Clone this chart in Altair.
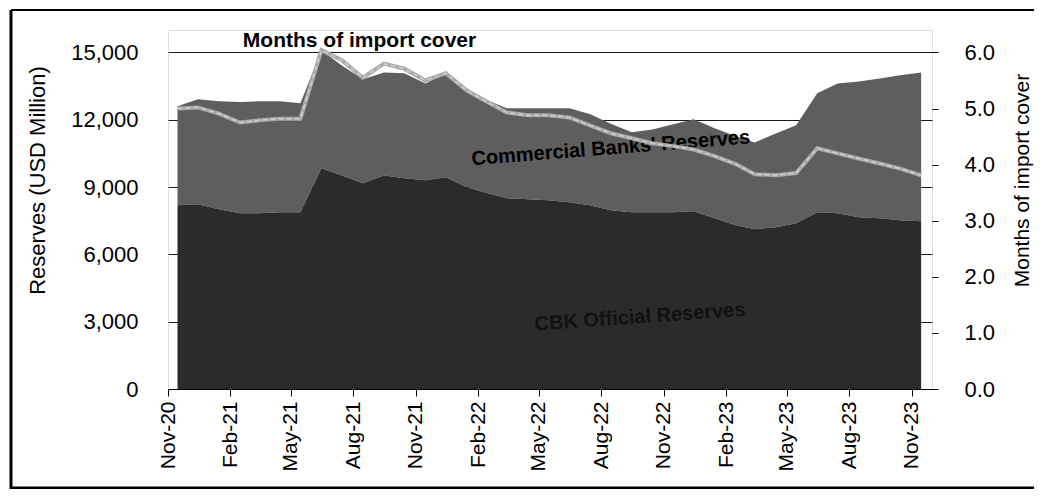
import altair as alt
import pandas as pd

# ---- data ----
months = [
    "2020-11", "2020-12", "2021-01", "2021-02", "2021-03", "2021-04", "2021-05",
    "2021-06", "2021-07", "2021-08", "2021-09", "2021-10", "2021-11", "2021-12",
    "2022-01", "2022-02", "2022-03", "2022-04", "2022-05", "2022-06", "2022-07",
    "2022-08", "2022-09", "2022-10", "2022-11", "2022-12", "2023-01", "2023-02",
    "2023-03", "2023-04", "2023-05", "2023-06", "2023-07", "2023-08", "2023-09",
    "2023-10", "2023-11",
]
cbk_reserves = [
    8190, 8230, 8010, 7830, 7830, 7880, 7880, 9840, 9520, 9170, 9520, 9390,
    9300, 9440, 8990, 8720, 8500, 8460, 8410, 8320, 8190, 7970, 7880, 7880,
    7880, 7920, 7610, 7300, 7120, 7210, 7390, 7880, 7830, 7660, 7610, 7520, 7480,
]
commercial_reserves = [
    4410, 4680, 4820, 4960, 4990, 4940, 4850, 5250, 4900, 4630, 4590, 4680,
    4320, 4630, 4230, 4140, 4010, 4050, 4100, 4190, 4070, 3850, 3560, 3690,
    3920, 4100, 4010, 3960, 3870, 4180, 4360, 5300, 5790, 6050, 6230, 6460, 6630,
]
import_cover = [
    5.00, 5.02, 4.91, 4.75, 4.79, 4.82, 4.82, 6.04, 5.86, 5.55, 5.80, 5.71,
    5.50, 5.63, 5.32, 5.11, 4.93, 4.88, 4.88, 4.84, 4.70, 4.56, 4.47, 4.38,
    4.33, 4.27, 4.15, 4.01, 3.83, 3.81, 3.85, 4.29, 4.20, 4.11, 4.02, 3.93, 3.81,
]
tick_months = [(2020, 11), (2021, 2), (2021, 5), (2021, 8), (2021, 11), (2022, 2),
               (2022, 5), (2022, 8), (2022, 11), (2023, 2), (2023, 5), (2023, 8),
               (2023, 11)]
left_ticks = [0, 3000, 6000, 9000, 12000, 15000]
right_ticks = [0, 1, 2, 3, 4, 5, 6]

label_text = ["Months of import cover", "Commercial Banks' Reserves", "CBK Official Reserves"]
label_date = ["2021-08-10T00:00:00", "2022-08-15T00:00:00", "2022-09-27T00:00:00"]
label_value = [15490, 10730, 3205]

FONT = "Liberation Sans"

df = pd.DataFrame({
    "date": [m + "-15T00:00:00" for m in months],
    "cbk": cbk_reserves,
    "commercial": commercial_reserves,
    "cover": import_cover,
})
df["total"] = df["cbk"] + df["commercial"]

labels = pd.DataFrame({"text": label_text, "date": label_date, "value": label_value})

x_dom = [alt.DateTime(year=2020, month=11, date=1), alt.DateTime(year=2023, month=12, date=1)]
x_vals = [alt.DateTime(year=y, month=m, date=1) for y, m in tick_months]

x_enc = alt.X(
    "date:T",
    scale=alt.Scale(domain=x_dom),
    axis=alt.Axis(values=x_vals, format="%b-%y", labelAngle=-90, labelFontSize=21,
                  labelFont=FONT, labelColor="black", tickSize=7, tickColor="black",
                  domainColor="black", labelPadding=5, labelFlush=False,
                  labelOverlap=False, grid=False, title=None),
)

y_scale = alt.Scale(domain=[0, 16000], nice=False, zero=True)
y_axis = alt.Axis(values=left_ticks, format=",.0f", labelFontSize=22, labelFont=FONT,
                  labelColor="black", tickSize=0, labelPadding=30, domain=False,
                  grid=True, gridColor="#1a1a1a", gridWidth=1.2,
                  title="Reserves (USD Million)", titleFontSize=22, titleFont=FONT,
                  titleFontWeight="normal", titleColor="black", titleAngle=-90,
                  titleAlign="center", titleBaseline="middle", titleX=-131, titleY=150)

base = alt.Chart(df)

commercial_area = base.mark_area(color="#5e5e5e", opacity=1).encode(
    x=x_enc,
    y=alt.Y("total:Q", scale=y_scale, axis=y_axis),
    y2="cbk:Q",
)
cbk_area = base.mark_area(color="#2b2b2d", opacity=1).encode(
    x=x_enc,
    y=alt.Y("cbk:Q", scale=y_scale),
)

lab = alt.Chart(labels)
title_text = lab.transform_filter(alt.datum.text == "Months of import cover").mark_text(
    font=FONT, fontSize=21, fontWeight="bold", color="black", baseline="middle", align="center"
).encode(x="date:T", y=alt.Y("value:Q", scale=y_scale), text="text:N")
cb_text = lab.transform_filter(alt.datum.text == "Commercial Banks' Reserves").mark_text(
    font=FONT, fontSize=20, fontWeight="bold", color="black", baseline="middle",
    align="center", angle=355.5
).encode(x="date:T", y=alt.Y("value:Q", scale=y_scale), text="text:N")
cbk_text = lab.transform_filter(alt.datum.text == "CBK Official Reserves").mark_text(
    font=FONT, fontSize=20, fontWeight="bold", color="#111111", baseline="middle",
    align="center", angle=356
).encode(x="date:T", y=alt.Y("value:Q", scale=y_scale), text="text:N")

# outer figure frame (decoration only): left, top and bottom edges
one = pd.DataFrame({"k": [0]})
frame_left = alt.Chart(one).mark_rule(color="black", strokeWidth=3).encode(
    x=alt.value(-157), y=alt.value(-20), y2=alt.value(459))
frame_top = alt.Chart(one).mark_rule(color="black", strokeWidth=2).encode(
    x=alt.value(-157), x2=alt.value(900), y=alt.value(-20))
frame_bottom = alt.Chart(one).mark_rule(color="black", strokeWidth=3).encode(
    x=alt.value(-157), x2=alt.value(900), y=alt.value(458))

left = alt.layer(commercial_area, cbk_area, title_text, cb_text, cbk_text,
                 frame_left, frame_top, frame_bottom)

right_y = alt.Y(
    "cover:Q", scale=alt.Scale(domain=[0, 6.4], nice=False),
    axis=alt.Axis(orient="right", values=right_ticks, format=".1f",
                  labelFontSize=22, labelFont=FONT, labelColor="black",
                  tickSize=6, tickColor="black", labelPadding=26,
                  domain=False, grid=False,
                  title="Months of import cover", titleFontSize=21,
                  titleFont=FONT, titleFontWeight="normal", titleColor="black",
                  titleAngle=-90, titleAlign="center", titleBaseline="middle",
                  titleX=90, titleY=150),
)
cover_line = base.mark_line(color="#a8a8a8", strokeWidth=4).encode(x=x_enc, y=right_y)
cover_line_top = base.mark_line(color="#cfcfcf", strokeWidth=1.5, strokeDash=[5, 3]).encode(
    x=x_enc, y=right_y)
right = alt.layer(cover_line, cover_line_top)

chart = alt.layer(left, right).resolve_scale(y="independent").properties(
    width=764, height=359,
    autosize=alt.AutoSizeParams(type="none"),
    padding={"left": 160, "top": 22, "right": 102, "bottom": 100},
).configure_view(stroke="black", strokeWidth=1).configure(background="white")

chart.save("out.html", embed_options={"renderer": "svg", "actions": False})
